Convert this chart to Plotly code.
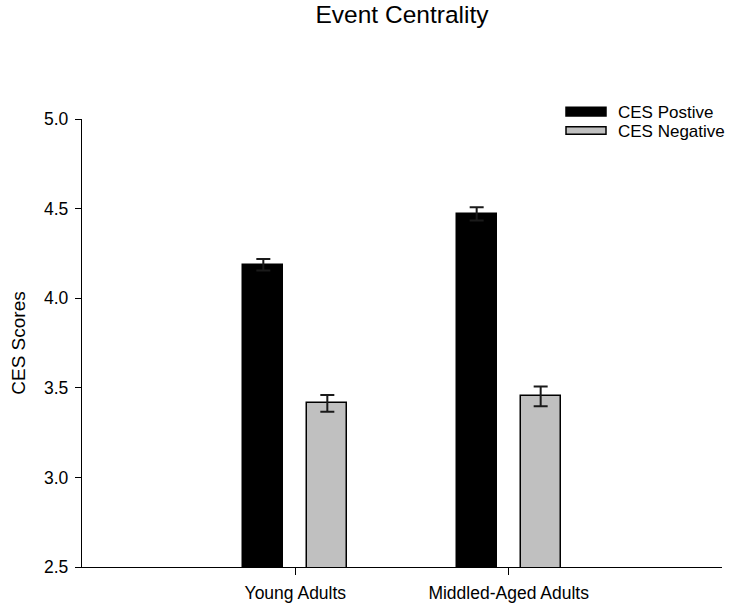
import plotly.graph_objects as go

categories = ["Young Adults", "Middled-Aged Adults"]
series_names = ["CES Postive", "CES Negative"]
positive_vals = [4.187, 4.470]
positive_err = [0.032, 0.037]
negative_vals = [3.413, 3.452]
negative_err = [0.047, 0.055]
series_colors = ["#000000", "#c0c0c0"]
y_ticks = [2.5, 3.0, 3.5, 4.0, 4.5, 5.0]

FONT = "Liberation Sans, Arial, sans-serif"

fig = go.Figure()
bar_w = 0.186
offsets = [-0.15 - bar_w / 2, 0.15 - bar_w / 2]
for name, vals, errs, col, off in zip(series_names, [positive_vals, negative_vals],
                                       [positive_err, negative_err], series_colors, offsets):
    fig.add_trace(go.Bar(
        x=categories, y=vals, name=name,
        width=bar_w, offset=off,
        marker=dict(color=col, line=dict(color="#000000", width=1.5)),
        error_y=dict(type="data", array=errs, visible=True, color="#1a1a1a",
                     thickness=2, width=7),
        showlegend=False,
    ))

L, R, T, B = 82, 7, 119, 36
W, H = 729, 603
pw, ph = W - L - R, H - T - B

def px_x(x):
    return (x - L) / pw

def px_y(y):
    return (H - B - y) / ph

# custom legend (styling only)
legend_rows = [(107.3, 116.0, 112.5), (126.7, 134.3, 131.5)]
for name, col, (y0, y1, yc) in zip(series_names, series_colors, legend_rows):
    fig.add_shape(type="rect", xref="paper", yref="paper",
                  x0=px_x(566), x1=px_x(606), y0=px_y(y1), y1=px_y(y0),
                  fillcolor=col, line=dict(color="#000000", width=1.5))
    fig.add_annotation(xref="paper", yref="paper", x=px_x(616), y=px_y(yc),
                       text=name, showarrow=False, xanchor="left", yanchor="middle",
                       font=dict(family=FONT, size=17, color="#000000"))

fig.update_layout(
    width=W, height=H,
    margin=dict(l=L, r=R, t=T, b=B, autoexpand=False),
    paper_bgcolor="white", plot_bgcolor="white",
    font=dict(family=FONT, color="#000000"),
    title=dict(text="Event Centrality", x=0.5 + 0.0, xref="paper",
               y=1 - 14 / H, yref="container", yanchor="middle", xanchor="center",
               font=dict(family=FONT, size=24.5, color="#000000")),
    showlegend=False,
    bargap=0, bargroupgap=0,
)
fig.update_xaxes(
    type="category", range=[-1, 2],
    showline=True, linecolor="#000000", linewidth=1.3,
    ticks="outside", ticklen=7, tickcolor="#000000", tickwidth=1.3,
    showgrid=False, zeroline=False, automargin=False,
    ticklabelstandoff=3,
    tickfont=dict(family=FONT, size=17.5, color="#000000"),
)
fig.update_yaxes(
    range=[2.5, 5.0], tickvals=y_ticks, tickformat=".1f",
    showline=True, linecolor="#000000", linewidth=1.3,
    ticks="outside", ticklen=6, tickcolor="#000000", tickwidth=1.3,
    showgrid=False, zeroline=False, automargin=False,
    ticklabelstandoff=3,
    tickfont=dict(family=FONT, size=17.5, color="#000000"),
    title=dict(text="CES Scores", standoff=13,
               font=dict(family=FONT, size=19, color="#000000")),
)

fig.write_html("out.html")
